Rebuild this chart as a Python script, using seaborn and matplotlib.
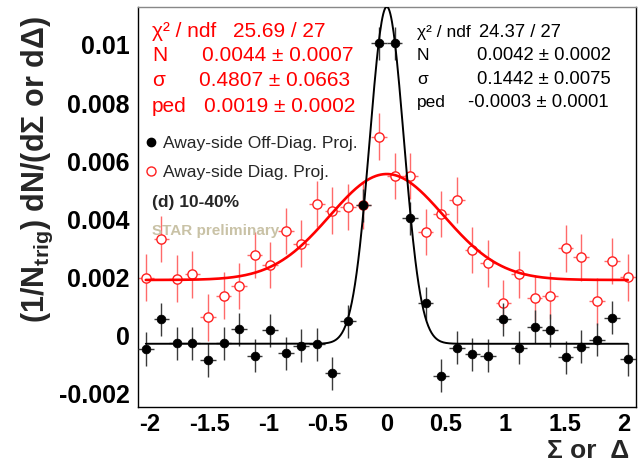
import numpy as np
import pandas as pd
import matplotlib
matplotlib.use("Agg")
import matplotlib.pyplot as plt
from matplotlib.lines import Line2D
from matplotlib.ticker import MultipleLocator, FixedLocator
import seaborn as sns

# ---- data: per-bin projections (bin centres along Sigma or Delta) ----
bin_centers = [-2.034, -1.903, -1.772, -1.641, -1.509, -1.378, -1.247, -1.116,
               -0.984, -0.853, -0.722, -0.591, -0.459, -0.328, -0.197, -0.066,
               0.066, 0.197, 0.328, 0.459, 0.591, 0.722, 0.853, 0.984,
               1.116, 1.247, 1.378, 1.509, 1.641, 1.772, 1.903, 2.034]
bin_half_width = 0.0656

off_diag = [-0.00048, 0.00055, -0.00029, -0.00029, -0.00086, -0.00029, 0.00020, -0.00071,
            0.00016, -0.00063, -0.00036, -0.00032, -0.00132, 0.00048, 0.00447, 0.01006,
            0.01006, 0.00402, 0.00109, -0.00141, -0.00044, -0.00067, -0.00071, 0.00055,
            -0.00044, 0.00028, 0.00017, -0.00077, -0.00041, -0.00016, 0.00059, -0.00083]
off_diag_err = [0.00057] * 32

diag = [0.00198, 0.00331, 0.00195, 0.00209, 0.00061, 0.00136, 0.00169, 0.00276,
        0.00241, 0.00359, 0.00315, 0.00451, 0.00429, 0.00442, 0.00447, 0.00684,
        0.00549, 0.00549, 0.00355, 0.00417, 0.00466, 0.00293, 0.00247, 0.00111,
        0.00209, 0.00128, 0.00136, 0.00299, 0.00268, 0.00116, 0.00256, 0.00199]
diag_err = [0.0008] * 32

# Gaussian + pedestal fit parameters (N, sigma, ped)
fit_diag = dict(N=0.0044, sigma=0.4807, ped=0.0019)
fit_off = dict(N=0.0042, sigma=0.1442, ped=-0.0003)

x_ticks = [-2, -1.5, -1, -0.5, 0, 0.5, 1, 1.5, 2]
x_tick_labels = ["-2", "-1.5", "-1", "-0.5", "0", "0.5", "1", "1.5", "2"]
y_ticks = [-0.002, 0, 0.002, 0.004, 0.006, 0.008, 0.01]
y_tick_labels = ["-0.002", "0", "0.002", "0.004", "0.006", "0.008", "0.01"]

stats_diag = [("χ² / ndf", "25.69 / 27"), ("N", "0.0044 ± 0.0007"),
              ("σ", "0.4807 ± 0.0663"), ("ped", "0.0019 ± 0.0002")]
stats_off = [("χ² / ndf", "24.37 / 27"), ("N", "0.0042 ± 0.0002"),
             ("σ", "0.1442 ± 0.0075"), ("ped", "-0.0003 ± 0.0001")]

# ---- style ----
sns.set_style("white")
plt.rcParams["font.family"] = ["Liberation Sans", "DejaVu Sans"]
plt.rcParams["mathtext.fontset"] = "custom"
plt.rcParams["mathtext.rm"] = "Liberation Sans"
plt.rcParams["mathtext.bf"] = "Liberation Sans:bold"
plt.rcParams["mathtext.it"] = "Liberation Sans:italic"

W, H = 640, 475
fig = plt.figure(figsize=(W / 100, H / 100), dpi=100)
fig.patch.set_facecolor("white")
ax = fig.add_axes([138 / W, 1 - 407 / H, (635.6 - 138) / W, 400 / H])


def fx(px):
    return px / W


def fy(py):
    return 1 - py / H


def gauss_ped(x, N, sigma, ped):
    return ped + N / (np.sqrt(2 * np.pi) * sigma) * np.exp(-x ** 2 / (2 * sigma ** 2))


xs = np.linspace(bin_centers[0], bin_centers[-1], 600)
curves = pd.DataFrame({
    "x": np.concatenate([xs, xs]),
    "y": np.concatenate([gauss_ped(xs, **fit_diag), gauss_ped(xs, **fit_off)]),
    "proj": ["diag"] * len(xs) + ["off"] * len(xs),
})
points = pd.DataFrame({"x": bin_centers, "diag": diag, "off": off_diag})

# diagonal projection (red, open circles)
ax.errorbar(bin_centers, diag, yerr=diag_err, xerr=bin_half_width, fmt="none",
            ecolor="#ff6a6a", elinewidth=1.0, capsize=0, zorder=2)
sns.scatterplot(data=points, x="x", y="diag", ax=ax, marker="o", s=44,
                facecolor="white", edgecolor="#ff2020", linewidth=1.0, zorder=3)
sns.lineplot(data=curves[curves.proj == "diag"], x="x", y="y", ax=ax,
             color="#ff0000", linewidth=1.9, zorder=4)

# off-diagonal projection (black, filled circles)
ax.errorbar(bin_centers, off_diag, yerr=off_diag_err, xerr=bin_half_width, fmt="none",
            ecolor="#3a3a3a", elinewidth=1.0, capsize=0, zorder=5)
sns.scatterplot(data=points, x="x", y="off", ax=ax, marker="o", s=40,
                color="black", edgecolor="black", linewidth=0.5, zorder=6)
sns.lineplot(data=curves[curves.proj == "off"], x="x", y="y", ax=ax,
             color="black", linewidth=1.4, zorder=7)

# ---- axes ----
ax.set_xlim(-2.1, 2.1)
ax.set_ylim(-0.00248, 0.01131)
ax.xaxis.set_major_locator(FixedLocator(x_ticks))
ax.set_xticklabels(x_tick_labels)
ax.xaxis.set_minor_locator(MultipleLocator(0.1))
ax.yaxis.set_major_locator(FixedLocator(y_ticks))
ax.set_yticklabels(y_tick_labels)
ax.yaxis.set_minor_locator(MultipleLocator(0.0005))
ax.tick_params(axis="both", which="both", direction="in", top=False, right=False,
               colors="black")
ax.tick_params(axis="both", which="major", length=8, width=0.8)
ax.tick_params(axis="y", which="major", labelsize=18, pad=6)
ax.tick_params(axis="x", which="major", labelsize=17, pad=4)
ax.tick_params(axis="both", which="minor", length=4.5, width=0.8)
for lab in ax.get_xticklabels() + ax.get_yticklabels():
    lab.set_fontweight("bold")
ax.set_xlabel("")
ax.set_ylabel("")
for side, spine in ax.spines.items():
    spine.set_visible(True)
    spine.set_linewidth(1.0)
    spine.set_color("#888888" if side == "top" else "black")

# axis titles
fig.text(fx(629), fy(458), "Σ or  Δ", ha="right", va="baseline",
         fontsize=19, fontweight="bold")
fig.text(fx(37), fy(170), r"(1/N$_{\mathbf{trig}}$) dN/(dΣ or dΔ)", rotation=90,
         ha="center", va="center", fontsize=22, fontweight="bold")

# ---- fit statistics ----
red_base = [36.7, 61, 86, 111.7]
red_val_x = [233, 202, 199, 204]
for (name, val), yb, xv in zip(stats_diag, red_base, red_val_x):
    fig.text(fx(152), fy(yb), name, color="#ff0000", fontsize=15, va="baseline")
    fig.text(fx(xv), fy(yb), val, color="#ff0000", fontsize=15, va="baseline")

blk_base = [36.7, 60, 84, 106.7]
blk_val_x = [479, 477, 477, 468]
for (name, val), yb, xv in zip(stats_off, blk_base, blk_val_x):
    fig.text(fx(417), fy(yb), name, color="black", fontsize=12.5, va="baseline")
    fig.text(fx(xv), fy(yb), val, color="black", fontsize=13.3, va="baseline")

# ---- legend ----
fig.add_artist(Line2D([fx(151)], [fy(142)], marker="o", markersize=6,
                      color="black", transform=fig.transFigure))
fig.add_artist(Line2D([fx(151)], [fy(171)], marker="o", markersize=6.5,
                      markerfacecolor="white", markeredgecolor="#ff2020",
                      markeredgewidth=1.0, linestyle="none",
                      transform=fig.transFigure))
fig.text(fx(163), fy(148.3), "Away-side Off-Diag. Proj.", fontsize=12.5, va="baseline")
fig.text(fx(163), fy(177.3), "Away-side Diag. Proj.", fontsize=12.5, va="baseline")
fig.text(fx(152), fy(207.3), "(d) 10-40%", fontsize=12.5, fontweight="bold",
         va="baseline")
fig.text(fx(152), fy(235), "STAR preliminary", fontsize=11, fontweight="bold",
         color="#c9c2a6", va="baseline")

fig.savefig("out.png", dpi=100, facecolor="white")
